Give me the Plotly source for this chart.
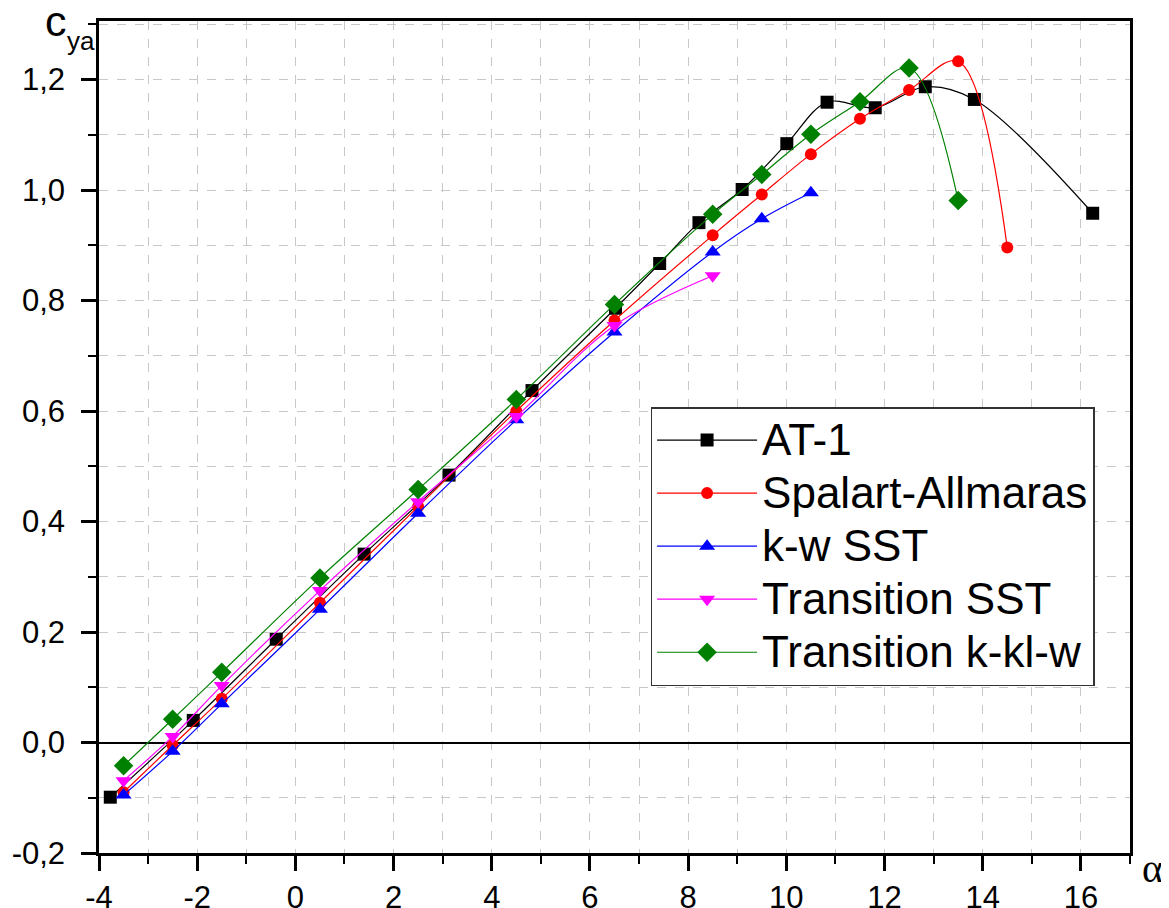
import plotly.graph_objects as go

# ---- data ----
at1_x = [-3.77, -2.08, -0.39, 1.40, 3.13, 4.82, 6.52, 7.42, 8.22, 9.10, 10.01, 10.83, 11.81, 12.83, 13.83, 16.24]
at1_y = [-0.099, 0.040, 0.187, 0.341, 0.484, 0.637, 0.786, 0.867, 0.941, 1.001, 1.084, 1.159, 1.149, 1.187, 1.164, 0.958]

sa_x = [-3.5, -2.5, -1.5, 0.5, 2.5, 4.5, 6.5, 8.5, 9.5, 10.5, 11.5, 12.5, 13.5, 14.5]
sa_y = [-0.090, -0.005, 0.079, 0.253, 0.427, 0.600, 0.764, 0.918, 0.992, 1.065, 1.129, 1.181, 1.233, 0.896]

kw_x = [-3.5, -2.5, -1.5, 0.5, 2.5, 4.5, 6.5, 8.5, 9.5, 10.5]
kw_y = [-0.095, -0.016, 0.070, 0.241, 0.415, 0.584, 0.743, 0.888, 0.948, 0.995]

tsst_x = [-3.5, -2.5, -1.5, 0.5, 2.5, 4.5, 6.5, 8.5]
tsst_y = [-0.069, 0.011, 0.103, 0.275, 0.436, 0.590, 0.755, 0.845]

kkl_x = [-3.5, -2.5, -1.5, 0.5, 2.5, 4.5, 6.5, 8.5, 9.5, 10.5, 11.5, 12.5, 13.5]
kkl_y = [-0.042, 0.042, 0.127, 0.298, 0.458, 0.621, 0.793, 0.956, 1.028, 1.101, 1.160, 1.221, 0.981]

series_names = ["AT-1", "Spalart-Allmaras", "k-w SST", "Transition SST", "Transition k-kl-w"]

x_tickvals = [-4, -2, 0, 2, 4, 6, 8, 10, 12, 14, 16]
x_ticktext = ["-4", "-2", "0", "2", "4", "6", "8", "10", "12", "14", "16"]
y_tickvals = [-0.2, 0.0, 0.2, 0.4, 0.6, 0.8, 1.0, 1.2]
y_ticktext = ["-0,2", "0,0", "0,2", "0,4", "0,6", "0,8", "1,0", "1,2"]

series = [
    (series_names[0], at1_x, at1_y, "#000000", "square", 13),
    (series_names[1], sa_x, sa_y, "#ff0000", "circle", 12),
    (series_names[2], kw_x, kw_y, "#0000ff", "triangle-up", 14),
    (series_names[3], tsst_x, tsst_y, "#ff00ff", "triangle-down", 14),
    (series_names[4], kkl_x, kkl_y, "#008000", "diamond", 15),
]

FONT = "Liberation Sans, Arial, sans-serif"

fig = go.Figure()
for name, xs, ys, col, sym, sz in series:
    fig.add_trace(go.Scatter(
        x=xs, y=ys,
        name='<span style="font-size:44px">' + name + "</span>",
        mode="lines+markers",
        line=dict(color=col, width=1.2, shape="spline", smoothing=1.0),
        marker=dict(color=col, symbol=sym, size=sz, line=dict(width=0)),
    ))

grid_col = "#c8c8c8"
fig.update_layout(
    width=1161, height=900,
    paper_bgcolor="white", plot_bgcolor="white",
    margin=dict(l=91, r=39, t=13, b=55, autoexpand=False),
    font=dict(family=FONT, size=31, color="black"),
    showlegend=True,
    legend=dict(
        x=0.535, y=0.536, xanchor="left", yanchor="top",
        bgcolor="white", bordercolor="#333333", borderwidth=1.5,
        font=dict(family=FONT, size=38.5, color="black"),
        itemwidth=100, tracegroupgap=0,
    ),
    xaxis=dict(
        range=[-4, 17], showline=True, linecolor="black", linewidth=2.5, mirror=True,
        automargin=False,
        ticks="outside", ticklen=15, tickwidth=2.5, tickcolor="black",
        tickvals=x_tickvals, ticktext=x_ticktext, ticklabelstandoff=0,
        showgrid=True, gridcolor=grid_col, griddash="dash", gridwidth=1,
        zeroline=False,
        minor=dict(dtick=1, ticks="outside", ticklen=8, tickwidth=2, tickcolor="black",
                   showgrid=True, gridcolor=grid_col, griddash="dash", gridwidth=1),
        tickfont=dict(size=31),
    ),
    yaxis=dict(
        range=[-0.2, 1.306], showline=True, linecolor="black", linewidth=2.5, mirror=True,
        automargin=False,
        ticks="outside", ticklen=15, tickwidth=2.5, tickcolor="black",
        tickvals=y_tickvals, ticktext=y_ticktext, ticklabelstandoff=10,
        showgrid=True, gridcolor=grid_col, griddash="dash", gridwidth=1,
        zeroline=True, zerolinecolor="black", zerolinewidth=2,
        minor=dict(dtick=0.1, ticks="outside", ticklen=8, tickwidth=2, tickcolor="black",
                   showgrid=True, gridcolor=grid_col, griddash="dash", gridwidth=1),
        tickfont=dict(size=31),
    ),
)

# axis titles placed as in the reference (c_ya top-left, alpha bottom-right)
fig.add_annotation(
    text="c", xref="paper", yref="paper", x=-0.0417, y=1.0,
    xanchor="center", yanchor="middle", showarrow=False,
    font=dict(family=FONT, size=43, color="black"),
)
fig.add_annotation(
    text="ya", xref="paper", yref="paper", x=-0.0175, y=0.976,
    xanchor="center", yanchor="middle", showarrow=False,
    font=dict(family=FONT, size=26, color="black"),
)
fig.add_annotation(
    text="α", xref="paper", yref="paper", x=1.010, y=-0.019,
    xanchor="left", yanchor="middle", showarrow=False,
    font=dict(family="Liberation Serif, Times New Roman, serif", size=40, color="black"),
)

fig.write_html("out.html")
